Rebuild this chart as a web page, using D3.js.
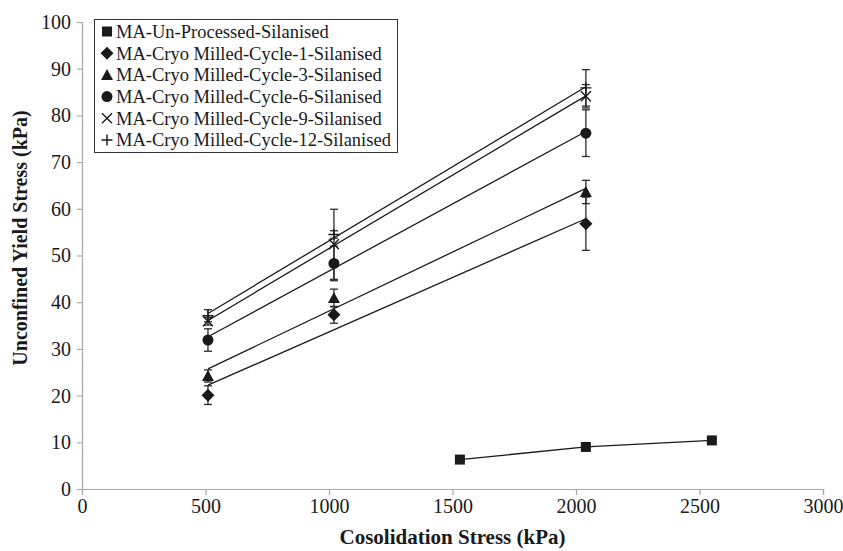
<!DOCTYPE html>
<html>
<head>
<meta charset="utf-8">
<script src="https://cdn.jsdelivr.net/npm/d3@7"></script>
<style>
  html, body { margin: 0; padding: 0; background: #fff; }
  svg { display: block; font-family: "Liberation Serif", "Times New Roman", serif; }
</style>
</head>
<body>
<svg id="chart" width="843" height="551"></svg>
<script>
// Consolidation stress levels (kPa)
const milledStress = [510, 1020, 2040];
const unprocessedStress = [1530, 2040, 2550];

// Series names as shown in the legend
const seriesNames = [
  "MA-Un-Processed-Silanised",
  "MA-Cryo Milled-Cycle-1-Silanised",
  "MA-Cryo Milled-Cycle-3-Silanised",
  "MA-Cryo Milled-Cycle-6-Silanised",
  "MA-Cryo Milled-Cycle-9-Silanised",
  "MA-Cryo Milled-Cycle-12-Silanised"
];
const seriesSymbols = ["square", "diamond", "triangle", "circle", "cross", "plus"];

// Unconfined yield stress (kPa) and error bar half-widths
const unprocessedYield = [6.3, 9.0, 10.4];
const cycle1Yield = [20.1, 37.3, 56.8];
const cycle1Err = [2.0, 1.8, 5.7];
const cycle3Yield = [24.2, 40.9, 63.6];
const cycle3Err = [1.3, 1.9, 2.5];
const cycle6Yield = [31.9, 48.3, 76.2];
const cycle6Err = [2.4, 3.7, 5.0];
const cycle9Yield = [35.9, 52.4, 84.1];
const cycle9Err = [0.8, 7.5, 2.5];
const cycle12Yield = [37.1, 54.5, 85.9];
const cycle12Err = [1.3, 0.8, 3.9];

// Axis ticks
const xTicks = [0, 500, 1000, 1500, 2000, 2500, 3000];
const yTicks = [0, 10, 20, 30, 40, 50, 60, 70, 80, 90, 100];

const milledSeries = [
  { symbol: "diamond", y: cycle1Yield, err: cycle1Err },
  { symbol: "triangle", y: cycle3Yield, err: cycle3Err },
  { symbol: "circle", y: cycle6Yield, err: cycle6Err },
  { symbol: "cross", y: cycle9Yield, err: cycle9Err },
  { symbol: "plus", y: cycle12Yield, err: cycle12Err }
];

const svg = d3.select("#chart");
const plot = { left: 82, right: 823, top: 22, bottom: 489 };

const x = d3.scaleLinear().domain([0, 3000]).range([plot.left, plot.right]);
const y = d3.scaleLinear().domain([0, 100]).range([plot.bottom, plot.top]);

const axisColor = "#a8a8a8";
const ink = "#1a1a1a";
const serif = "'Liberation Serif', 'Times New Roman', serif";

// Axes
const gx = svg.append("g")
  .attr("transform", `translate(0,${plot.bottom})`)
  .call(d3.axisBottom(x).tickValues(xTicks).tickSize(6).tickPadding(4).tickFormat(d3.format("d")));
const gy = svg.append("g")
  .attr("transform", `translate(${plot.left},0)`)
  .call(d3.axisLeft(y).tickValues(yTicks).tickSize(5).tickPadding(6).tickFormat(d3.format("d")));
[gx, gy].forEach(g => {
  g.attr("font-family", serif).attr("font-size", 20);
  g.select(".domain").attr("stroke", axisColor).attr("stroke-width", 1.2);
  g.selectAll(".tick line").attr("stroke", axisColor).attr("stroke-width", 1.2);
  g.selectAll(".tick text").attr("fill", ink);
});

// Axis titles
svg.append("text")
  .attr("x", (plot.left + plot.right) / 2)
  .attr("y", 544)
  .attr("text-anchor", "middle")
  .attr("font-family", serif)
  .style("font-size", "21px").style("font-weight", "bold").attr("fill", ink)
  .text("Cosolidation Stress (kPa)");
svg.append("text")
  .attr("transform", `translate(27,238) rotate(-90)`)
  .attr("text-anchor", "middle")
  .attr("font-family", serif)
  .style("font-size", "20px").style("font-weight", "bold").attr("fill", ink)
  .text("Unconfined Yield Stress (kPa)");

// Marker drawing
function drawMarker(g, type, cx, cy) {
  const s = 5.5;
  if (type === "square") {
    g.append("rect").attr("x", cx - 5).attr("y", cy - 5).attr("width", 10).attr("height", 10).attr("fill", ink);
  } else if (type === "diamond") {
    g.append("path").attr("d", `M${cx},${cy - 6.5}L${cx + 6.5},${cy}L${cx},${cy + 6.5}L${cx - 6.5},${cy}Z`).attr("fill", ink);
  } else if (type === "triangle") {
    g.append("path").attr("d", `M${cx},${cy - 6}L${cx + 6},${cy + 5}L${cx - 6},${cy + 5}Z`).attr("fill", ink);
  } else if (type === "circle") {
    g.append("circle").attr("cx", cx).attr("cy", cy).attr("r", 5.5).attr("fill", ink);
  } else if (type === "cross") {
    g.append("path").attr("d", `M${cx - 5},${cy - 5}L${cx + 5},${cy + 5}M${cx - 5},${cy + 5}L${cx + 5},${cy - 5}`)
      .attr("stroke", ink).attr("stroke-width", 1.4).attr("fill", "none");
  } else if (type === "plus") {
    g.append("path").attr("d", `M${cx - s},${cy}L${cx + s},${cy}M${cx},${cy - s}L${cx},${cy + s}`)
      .attr("stroke", ink).attr("stroke-width", 1.4).attr("fill", "none");
  }
}

// Least-squares trend line for a series
function fit(xs, ys) {
  const mx = d3.mean(xs), my = d3.mean(ys);
  const sxy = d3.sum(xs, (v, i) => (v - mx) * (ys[i] - my));
  const sxx = d3.sum(xs, v => (v - mx) * (v - mx));
  const b = sxy / sxx;
  return v => my + b * (v - mx);
}

const marks = svg.append("g");
const xMin = d3.min(milledStress), xMax = d3.max(milledStress);

// Trend lines
milledSeries.forEach(s => {
  const f = fit(milledStress, s.y);
  marks.append("line")
    .attr("x1", x(xMin)).attr("y1", y(f(xMin)))
    .attr("x2", x(xMax)).attr("y2", y(f(xMax)))
    .attr("stroke", ink).attr("stroke-width", 1.3);
});

// Un-processed series line
marks.append("path")
  .datum(unprocessedYield.map((v, i) => [unprocessedStress[i], v]))
  .attr("d", d3.line().x(d => x(d[0])).y(d => y(d[1])))
  .attr("fill", "none").attr("stroke", ink).attr("stroke-width", 1.3);

// Error bars
milledSeries.forEach(s => {
  s.y.forEach((v, i) => {
    const cx = x(milledStress[i]);
    const top = y(v + s.err[i]), bot = y(v - s.err[i]);
    marks.append("line").attr("x1", cx).attr("x2", cx).attr("y1", top).attr("y2", bot)
      .attr("stroke", "#2a2a2a").attr("stroke-width", 1.3);
    [top, bot].forEach(yy => marks.append("line")
      .attr("x1", cx - 4).attr("x2", cx + 4).attr("y1", yy).attr("y2", yy)
      .attr("stroke", "#2a2a2a").attr("stroke-width", 1.3));
  });
});

// Markers
unprocessedYield.forEach((v, i) => drawMarker(marks, "square", x(unprocessedStress[i]), y(v)));
milledSeries.forEach(s => s.y.forEach((v, i) => drawMarker(marks, s.symbol, x(milledStress[i]), y(v))));

// Legend
const legend = svg.append("g");
legend.append("rect").attr("x", 94.5).attr("y", 19.5).attr("width", 303).attr("height", 133)
  .attr("fill", "#fff").attr("stroke", "#333").attr("stroke-width", 1);
seriesNames.forEach((name, i) => {
  const cy = 31.5 + i * 21.7;
  drawMarker(legend, seriesSymbols[i], 107, cy);
  legend.append("text").attr("x", 116).attr("y", cy).attr("dy", "0.35em")
    .attr("font-family", serif)
    .style("font-size", "18.5px").attr("fill", ink).text(name);
});
</script>
</body>
</html>
